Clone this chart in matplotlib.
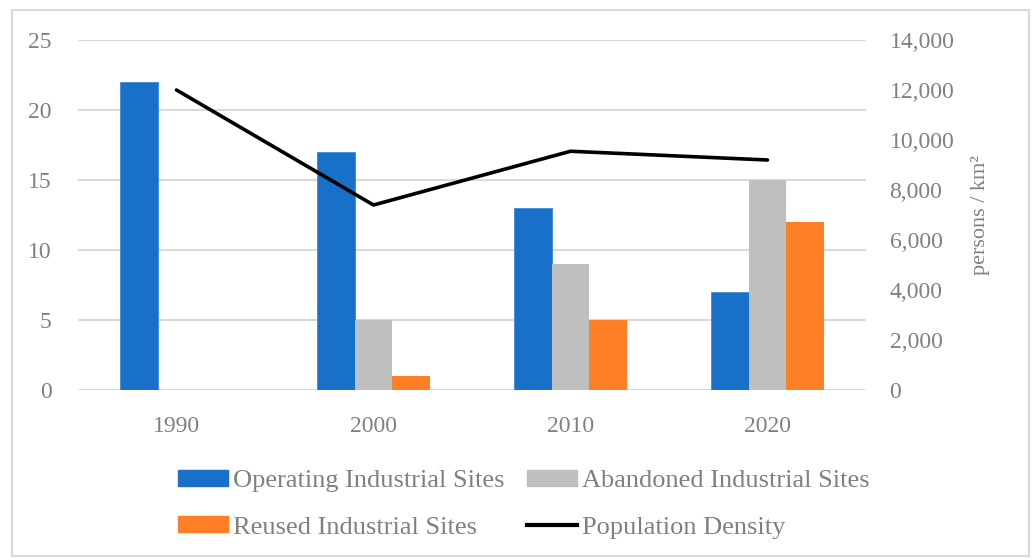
import matplotlib
matplotlib.use('Agg')
import numpy as np
from matplotlib import pyplot as plt
from matplotlib.patches import Rectangle
from matplotlib.lines import Line2D
from matplotlib.ticker import FuncFormatter

years = ['1990', '2000', '2010', '2020']
operating = [22, 17, 13, 7]
abandoned = [0, 5, 9, 15]
reused = [0, 1, 5, 12]
density = [12000, 7400, 9550, 9200]

blue = '#1870c8'
grey = '#bfbfbf'
orange = '#ff7f27'
text_grey = '#808080'

plt.rcParams['font.family'] = ['Liberation Serif', 'DejaVu Serif']

fig = plt.figure(figsize=(10.35, 5.59), dpi=100)
fig.patches.append(Rectangle((12 / 1035, 3 / 559), 1017 / 1035, 546 / 559,
                             transform=fig.transFigure, fill=False,
                             edgecolor='#d9d9d9', linewidth=1.5))

ax = fig.add_axes([78 / 1035, 1 - 390 / 559, 788 / 1035, 350 / 559])
x = np.arange(len(years))
w = 0.19
ax.bar(x - w, operating, w, color=blue, edgecolor='#3d8ad6', linewidth=0.6, zorder=3)
ax.bar(x, abandoned, w, color=grey, zorder=3)
ax.bar(x + w, reused, w, color=orange, zorder=3)
ax.set_xlim(-0.5, 3.5)
ax.set_ylim(0, 25)
ax.set_yticks(range(0, 26, 5))
ax.set_xticks(x)
ax.set_xticklabels(years)
ax.grid(axis='y', color='#d9d9d9', linewidth=1.5, zorder=0)
ax.set_axisbelow(True)
for s in ax.spines.values():
    s.set_visible(False)
ax.tick_params(length=0, labelsize=17, colors=text_grey)
ax.tick_params(axis='y', pad=19)
ax.tick_params(axis='x', pad=19)

ax2 = ax.twinx()
ax2.plot(x, density, color='black', linewidth=2.6, solid_capstyle='round', zorder=4)
ax2.set_ylim(0, 14000)
ax2.set_yticks(range(0, 14001, 2000))
ax2.yaxis.set_major_formatter(FuncFormatter(lambda v, p: f'{int(v):,}'))
for s in ax2.spines.values():
    s.set_visible(False)
ax2.tick_params(length=0, labelsize=17, colors=text_grey, pad=17)
ax2.set_ylabel('persons / km²', fontsize=16, color=text_grey, labelpad=12)

# fig.legend fills column by column, so order is op, reused | abandoned, density
handles = [
    Rectangle((0, 0), 1, 1, color=blue),
    Rectangle((0, 0), 1, 1, color=orange),
    Rectangle((0, 0), 1, 1, color=grey),
    Line2D([0], [0], color='black', linewidth=3),
]
labels = ['Operating Industrial Sites', 'Reused Industrial Sites',
          'Abandoned Industrial Sites', 'Population Density']
fig.legend(handles, labels, loc='upper left', bbox_to_anchor=(178 / 1035, 1 - 470 / 559),
           ncol=2, frameon=False, fontsize=19, labelcolor=text_grey,
           borderpad=0, borderaxespad=0,
           handlelength=1.9, handleheight=0.57, handletextpad=0.19,
           columnspacing=0.85, labelspacing=0.9)

fig.savefig('out.png', dpi=100)
